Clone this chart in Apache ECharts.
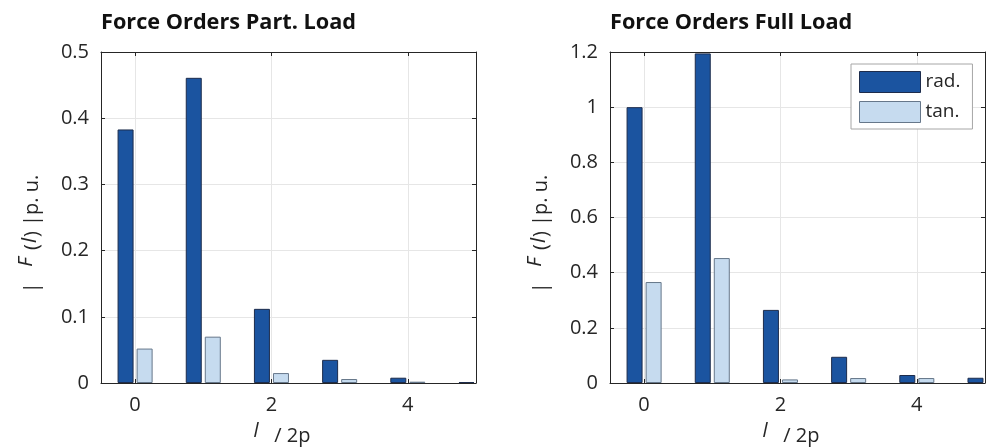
<!DOCTYPE html>
<html>
<head>
<meta charset="utf-8">
<script src="https://cdn.jsdelivr.net/npm/echarts@6/dist/echarts.min.js"></script>
<style>
html, body { margin: 0; padding: 0; background: #fff; }
#chart { width: 988px; height: 448px; }
</style>
</head>
<body>
<div id="chart"></div>
<script>
// Force orders (l / 2p) and their normalised magnitudes
const orders = [0, 1, 2, 3, 4, 5];
const partRad = [0.383, 0.461, 0.112, 0.035, 0.008, 0.0015];
const partTan = [0.052, 0.070, 0.015, 0.006, 0.002, null];
const fullRad = [1.0, 1.195, 0.265, 0.095, 0.029, 0.019];
const fullTan = [0.366, 0.453, 0.013, 0.018, 0.018, null];
const xTickValues = [0, 2, 4];
const titles = ['Force Orders Part. Load', 'Force Orders Full Load'];
const seriesNames = ['rad.', 'tan.'];

const FONT = '"Open Sans", "Noto Sans", sans-serif';
const INK = '#262626';
const GRIDLINE = '#e6e6e6';
const RAD_FILL = '#1b54a0';
const RAD_EDGE = '#1d2c4c';
const TAN_FILL = '#c6dbef';
const TAN_EDGE = '#66778a';
const LABEL_SIZE = 20;
const NAME_FONT = '20px ' + FONT;
const NAME_ITALIC = 'italic 20px ' + FONT;

const panels = [
  { left: 101, max: 0.5, interval: 0.1, rad: partRad, tan: partTan },
  { left: 610, max: 1.2, interval: 0.2, rad: fullRad, tan: fullTan }
];
const PLOT_TOP = 52, PLOT_W = 375, PLOT_H = 331;

function xAxis(gridIndex, position, main) {
  return {
    type: 'value', gridIndex, position, min: -0.5, max: 5,
    axisLine: { show: true, onZero: false, lineStyle: { color: INK, width: 1 } },
    axisTick: { show: true, inside: true, length: 4, customValues: xTickValues,
                lineStyle: { color: INK, width: 1 } },
    axisLabel: { show: main, customValues: xTickValues, margin: 12, fontSize: LABEL_SIZE,
                 color: INK, fontFamily: FONT },
    splitLine: { show: main, lineStyle: { color: GRIDLINE, width: 1 } }
  };
}

function yAxis(gridIndex, position, max, interval, main) {
  return {
    type: 'value', gridIndex, position, min: 0, max, interval,
    axisLine: { show: true, onZero: false, lineStyle: { color: INK, width: 1 } },
    axisTick: { show: true, inside: true, length: 4, lineStyle: { color: INK, width: 1 } },
    axisLabel: { show: main, margin: 12, fontSize: LABEL_SIZE, color: INK, fontFamily: FONT },
    splitLine: { show: main, lineStyle: { color: GRIDLINE, width: 1 } }
  };
}

const grids = [], xAxes = [], yAxes = [], series = [], titleList = [], graphics = [];

panels.forEach((p, i) => {
  grids.push({ left: p.left, top: PLOT_TOP, width: PLOT_W, height: PLOT_H, containLabel: false });
  // main axes (bottom / left) carry labels and grid lines, mirrors on top / right carry ticks only
  xAxes.push(xAxis(i, 'bottom', true));
  xAxes.push(xAxis(i, 'top', false));
  yAxes.push(yAxis(i, 'left', p.max, p.interval, true));
  yAxes.push(yAxis(i, 'right', p.max, p.interval, false));

  const common = { type: 'bar', xAxisIndex: i * 2, yAxisIndex: i * 2, barWidth: 16,
                   barGap: '19%', clip: true };
  series.push(Object.assign({}, common, {
    name: seriesNames[0],
    data: orders.map((o, k) => [o, p.rad[k]]),
    itemStyle: { color: RAD_FILL, borderColor: RAD_EDGE, borderWidth: 1 }
  }));
  series.push(Object.assign({}, common, {
    name: seriesNames[1],
    data: orders.map((o, k) => [o, p.tan[k]]),
    itemStyle: { color: TAN_FILL, borderColor: TAN_EDGE, borderWidth: 1 }
  }));

  titleList.push({
    text: titles[i], left: p.left - 5, top: 7,
    textStyle: { fontSize: 21.7, fontWeight: 'bold', color: '#111', fontFamily: FONT }
  });

  // y-axis name: |F(l)| p. u.
  graphics.push({
    type: 'text', x: p.left - 72, y: 234, rotation: Math.PI / 2,
    style: {
      text: '{n||   }{f|F}{n| (}{l|l}{n|) |p. u.}',
      align: 'center', verticalAlign: 'middle', fill: INK, font: NAME_FONT,
      rich: {
        n: { font: NAME_FONT, fill: INK, verticalAlign: 'bottom' },
        f: { font: NAME_ITALIC, fill: INK, verticalAlign: 'bottom', padding: [0, 2, 6, 0] },
        l: { font: NAME_ITALIC, fill: INK, verticalAlign: 'bottom', padding: [0, 1, 2, 1] }
      }
    }
  });
  // x-axis name: l / 2p
  graphics.push({
    type: 'text', x: p.left + 181, y: 434,
    style: {
      text: '{l|l}{n|   / 2p}',
      align: 'center', verticalAlign: 'middle', fill: INK, font: NAME_FONT,
      rich: {
        n: { font: NAME_FONT, fill: INK, verticalAlign: 'bottom' },
        l: { font: NAME_ITALIC, fill: INK, verticalAlign: 'bottom', padding: [0, 0, 5, 0] }
      }
    }
  });
});

const chart = echarts.init(document.getElementById('chart'), null, { renderer: 'canvas' });
chart.setOption({
  animation: false,
  backgroundColor: '#fff',
  title: titleList,
  grid: grids,
  xAxis: xAxes,
  yAxis: yAxes,
  legend: {
    data: seriesNames, orient: 'vertical', left: 851, top: 64,
    itemWidth: 61, itemHeight: 21, itemGap: 8, padding: [7, 12, 6, 8],
    borderColor: '#a6a6a6', borderWidth: 1, backgroundColor: '#fff',
    icon: 'rect', selectedMode: false,
    itemStyle: { borderWidth: 1 },
    textStyle: { fontSize: 19, color: INK, fontFamily: FONT }
  },
  series,
  graphic: graphics
});
</script>
</body>
</html>
